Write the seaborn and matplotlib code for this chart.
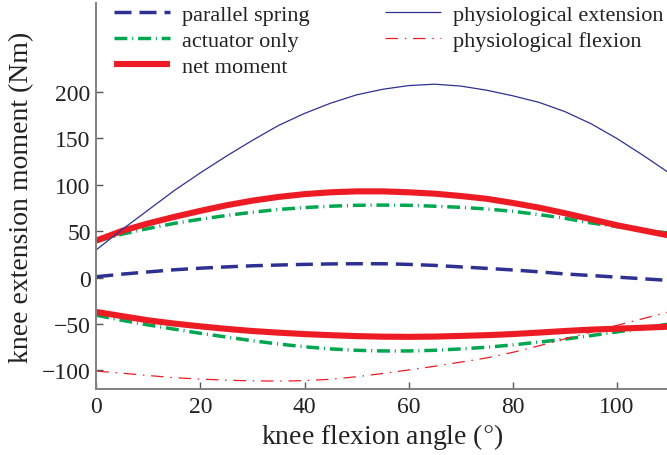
import numpy as np
import pandas as pd
import matplotlib
matplotlib.use("Agg")
import matplotlib.pyplot as plt
import seaborn as sns

# ---- data ----
angle = [0, 5, 10, 15, 20, 25, 30, 35, 40, 45, 50, 55,
         60, 65, 70, 75, 80, 85, 90, 95, 100, 105, 110]
parallel_spring = [1, 3.8, 6.2, 8.5, 10.2, 11.6, 12.8, 13.6, 14.3, 14.8, 15, 15,
                   14.3, 13.2, 11.6, 10, 8.3, 6.3, 4, 2.3, 0.6, -1.2, -3]
actuator_ext = [39, 47, 53, 58.5, 63, 67, 70.5, 73.5, 75.5, 77, 78, 78.2,
                78, 77, 75.8, 74, 71.5, 68, 64, 59, 55, 51.5, 48]
actuator_flex = [-40.5, -46, -51, -55.5, -60, -64, -68, -71.5, -74.5, -76.8, -78.3, -79,
                 -79, -78.3, -76.8, -75, -72.5, -69.5, -66.3, -62.5, -58.5, -54.5, -50]
net_ext = [40, 50.5, 58.5, 65.5, 72, 78, 83, 87, 90, 92, 93, 93,
           92, 90.5, 88, 85, 80.5, 75.5, 69.5, 63, 56.5, 51, 45.5]
net_flex = [-37, -41.5, -46, -49.5, -52.5, -55.2, -57.5, -59.3, -60.8, -62, -63, -63.6,
            -63.8, -63.5, -62.8, -62, -60.8, -59.2, -57.5, -56, -55, -54, -52.8]
phys_ext = [30, 52, 73, 94, 113, 131, 148, 164, 177, 188, 197, 203,
            207, 208.5, 206.5, 202, 196, 189, 179, 166, 150, 132, 113]
phys_flex = [-100.7, -103, -105.5, -107.8, -109.3, -110.5, -111.2, -111.5, -111, -109.5, -106.8, -103.3,
             -99.5, -95.5, -91, -86.5, -80.5, -73.5, -66, -58.8, -51.5, -44.2, -37]

xticks = [0, 20, 40, 60, 80, 100]
yticks = [-100, -50, 0, 50, 100, 150, 200]

sns.set_theme(style="white")
plt.rcParams['font.family'] = ['Liberation Serif', 'DejaVu Serif']
plt.rcParams['mathtext.fontset'] = 'stix'

W, H = 667, 456
fig = plt.figure(figsize=(W / 100, H / 100), dpi=100)
x0, x1 = 96.3, 668.9
ytop, ybot = 4, 390
ax = fig.add_axes([x0 / W, 1 - ybot / H, (x1 - x0) / W, (ybot - ytop) / H])

blue = "#2E3192"
green = "#00A650"
red = "#ED1C24"

def draw(y, label, color, lw, dashes=None):
    df = pd.DataFrame({"x": angle, "y": y})
    sns.lineplot(data=df, x="x", y="y", ax=ax, color=color, linewidth=lw,
                 label=label, legend=False)
    ln = ax.lines[-1]
    if dashes is not None:
        ln.set_dashes(dashes)
    ln.set_solid_capstyle("butt")
    ln.set_dash_capstyle("butt")
    ln.set_solid_joinstyle("round")
    return ln

dash_blue = (4.9, 2.3)
dash_green = (3.7, 1.4, 0.3, 1.4)
dash_red = (10, 5.4, 1.2, 5.4)

h_ps = draw(parallel_spring, "parallel spring", blue, 2.5, dash_blue)
h_ao = draw(actuator_ext, "actuator only", green, 2.5, dash_green)
draw(actuator_flex, "_nolegend_", green, 2.5, dash_green)
h_nm = draw(net_ext, "net moment", red, 4.4)
draw(net_flex, "_nolegend_", red, 4.4)
h_pe = draw(phys_ext, "physiological extension", blue, 0.9)
h_pf = draw(phys_flex, "physiological flexion", red, 0.9, dash_red)

ax.set_xlim(0, 110)
ax.set_ylim(-120, 296)
ax.set_xticks(xticks)
ax.set_yticks(yticks)

for s in ["top", "right"]:
    ax.spines[s].set_visible(False)
for s in ["left", "bottom"]:
    ax.spines[s].set_color("#808080")
    ax.spines[s].set_linewidth(1.4)

ax.tick_params(axis="both", direction="in", length=5, width=1.0, color="#555555",
               labelsize=17, labelcolor="#222222", pad=5, left=True, bottom=True)
ax.tick_params(axis="y", pad=4)

ax.set_xlabel("knee flexion angle ($\\degree$)", fontsize=20, color="#222222", labelpad=3)
ax.set_ylabel("knee extension moment (Nm)", fontsize=20, color="#222222", labelpad=6)

leg = ax.legend(handles=[h_ps, h_ao, h_nm, h_pe, h_pf],
                labels=["parallel spring", "actuator only", "net moment",
                        "physiological extension", "physiological flexion"],
                ncol=2, loc="upper left", bbox_to_anchor=(0.031, 0.997), frameon=False,
                fontsize=16, handlelength=2.5, handletextpad=0.55, labelspacing=0.25,
                columnspacing=3.4, borderaxespad=0.0, borderpad=0.0)
for t in leg.get_texts():
    t.set_color("#222222")

fig.savefig("out.png", dpi=100)
